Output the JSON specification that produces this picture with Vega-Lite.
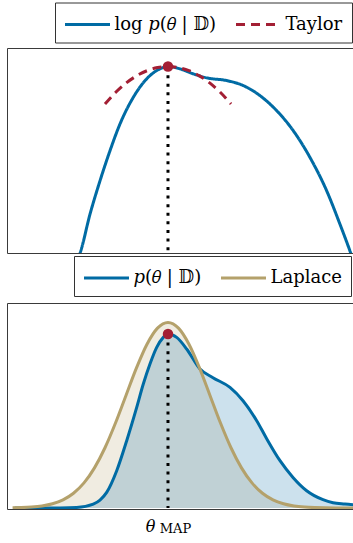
{
  "$schema": "https://vega.github.io/schema/vega-lite/v6.json",
  "padding": {"left": 7, "top": 2, "right": 0, "bottom": 0},
  "spacing": 0,
  "background": "white",
  "resolve": {"scale": {"stroke": "independent", "strokeDash": "independent"}},
  "config": {
    "view": {"stroke": null},
    "axis": {"grid": false, "ticks": false, "tickSize": 0, "labels": false, "domainColor": "#3a3a3a", "domainWidth": 1},
    "legend": {
      "labelFont": "DejaVu Serif",
      "labelFontSize": 18,
      "labelColor": "black",
      "labelLimit": 300,
      "strokeColor": "#333333",
      "fillColor": "white",
      "padding": 9,
      "symbolType": "M-2,0H2",
      "symbolSize": 506,
      "symbolStrokeWidth": 3,
      "symbolOffset": 10.5,
      "labelOffset": 14,
      "columnPadding": 13
    }
  },
  "datasets": {
    "logpost": [
      {"theta": -2.19, "value": -6.88, "series": "log 𝑝(𝜃 | 𝔻)"},
      {"theta": -2.095, "value": -6.594, "series": "log 𝑝(𝜃 | 𝔻)"},
      {"theta": -1.857, "value": -5.42, "series": "log 𝑝(𝜃 | 𝔻)"},
      {"theta": -1.619, "value": -4.417, "series": "log 𝑝(𝜃 | 𝔻)"},
      {"theta": -1.381, "value": -3.513, "series": "log 𝑝(𝜃 | 𝔻)"},
      {"theta": -1.143, "value": -2.709, "series": "log 𝑝(𝜃 | 𝔻)"},
      {"theta": -0.826, "value": -1.908, "series": "log 𝑝(𝜃 | 𝔻)"},
      {"theta": -0.507, "value": -1.353, "series": "log 𝑝(𝜃 | 𝔻)"},
      {"theta": -0.19, "value": -1.052, "series": "log 𝑝(𝜃 | 𝔻)"},
      {"theta": 0, "value": -0.983, "series": "log 𝑝(𝜃 | 𝔻)"},
      {"theta": 0.286, "value": -1.052, "series": "log 𝑝(𝜃 | 𝔻)"},
      {"theta": 0.602, "value": -1.203, "series": "log 𝑝(𝜃 | 𝔻)"},
      {"theta": 0.921, "value": -1.323, "series": "log 𝑝(𝜃 | 𝔻)"},
      {"theta": 1.398, "value": -1.405, "series": "log 𝑝(𝜃 | 𝔻)"},
      {"theta": 1.793, "value": -1.555, "series": "log 𝑝(𝜃 | 𝔻)"},
      {"theta": 2.19, "value": -1.856, "series": "log 𝑝(𝜃 | 𝔻)"},
      {"theta": 2.588, "value": -2.308, "series": "log 𝑝(𝜃 | 𝔻)"},
      {"theta": 2.983, "value": -2.911, "series": "log 𝑝(𝜃 | 𝔻)"},
      {"theta": 3.381, "value": -3.715, "series": "log 𝑝(𝜃 | 𝔻)"},
      {"theta": 3.779, "value": -4.718, "series": "log 𝑝(𝜃 | 𝔻)"},
      {"theta": 4.095, "value": -5.721, "series": "log 𝑝(𝜃 | 𝔻)"},
      {"theta": 4.333, "value": -6.525, "series": "log 𝑝(𝜃 | 𝔻)"},
      {"theta": 4.45, "value": -6.95, "series": "log 𝑝(𝜃 | 𝔻)"},
      {"theta": -1.5, "value": -2.108, "series": "Taylor"},
      {"theta": -1.25, "value": -1.764, "series": "Taylor"},
      {"theta": -1.0, "value": -1.483, "series": "Taylor"},
      {"theta": -0.75, "value": -1.264, "series": "Taylor"},
      {"theta": -0.5, "value": -1.108, "series": "Taylor"},
      {"theta": -0.25, "value": -1.014, "series": "Taylor"},
      {"theta": 0, "value": -0.983, "series": "Taylor"},
      {"theta": 0.25, "value": -1.014, "series": "Taylor"},
      {"theta": 0.5, "value": -1.108, "series": "Taylor"},
      {"theta": 0.75, "value": -1.264, "series": "Taylor"},
      {"theta": 1.0, "value": -1.483, "series": "Taylor"},
      {"theta": 1.25, "value": -1.764, "series": "Taylor"},
      {"theta": 1.5, "value": -2.108, "series": "Taylor"}
    ],
    "dens": [
      {"theta": -3.65, "p": 0.0002, "series": "𝑝(𝜃 | 𝔻)"},
      {"theta": -3.286, "p": 0.0002, "series": "𝑝(𝜃 | 𝔻)"},
      {"theta": -2.929, "p": 0.0002, "series": "𝑝(𝜃 | 𝔻)"},
      {"theta": -2.571, "p": 0.0003, "series": "𝑝(𝜃 | 𝔻)"},
      {"theta": -2.174, "p": 0.0013, "series": "𝑝(𝜃 | 𝔻)"},
      {"theta": -1.779, "p": 0.0086, "series": "𝑝(𝜃 | 𝔻)"},
      {"theta": -1.619, "p": 0.017, "series": "𝑝(𝜃 | 𝔻)"},
      {"theta": -1.46, "p": 0.0335, "series": "𝑝(𝜃 | 𝔻)"},
      {"theta": -1.221, "p": 0.0802, "series": "𝑝(𝜃 | 𝔻)"},
      {"theta": -0.983, "p": 0.1447, "series": "𝑝(𝜃 | 𝔻)"},
      {"theta": -0.745, "p": 0.2162, "series": "𝑝(𝜃 | 𝔻)"},
      {"theta": -0.588, "p": 0.2665, "series": "𝑝(𝜃 | 𝔻)"},
      {"theta": -0.429, "p": 0.3095, "series": "𝑝(𝜃 | 𝔻)"},
      {"theta": -0.269, "p": 0.3452, "series": "𝑝(𝜃 | 𝔻)"},
      {"theta": -0.112, "p": 0.3667, "series": "𝑝(𝜃 | 𝔻)"},
      {"theta": 0, "p": 0.374, "series": "𝑝(𝜃 | 𝔻)"},
      {"theta": 0.207, "p": 0.3667, "series": "𝑝(𝜃 | 𝔻)"},
      {"theta": 0.445, "p": 0.3418, "series": "𝑝(𝜃 | 𝔻)"},
      {"theta": 0.762, "p": 0.2988, "series": "𝑝(𝜃 | 𝔻)"},
      {"theta": 1.071, "p": 0.2801, "series": "𝑝(𝜃 | 𝔻)"},
      {"theta": 1.476, "p": 0.2592, "series": "𝑝(𝜃 | 𝔻)"},
      {"theta": 1.786, "p": 0.2306, "series": "𝑝(𝜃 | 𝔻)"},
      {"theta": 2.112, "p": 0.1877, "series": "𝑝(𝜃 | 𝔻)"},
      {"theta": 2.35, "p": 0.149, "series": "𝑝(𝜃 | 𝔻)"},
      {"theta": 2.667, "p": 0.1017, "series": "𝑝(𝜃 | 𝔻)"},
      {"theta": 2.976, "p": 0.0658, "series": "𝑝(𝜃 | 𝔻)"},
      {"theta": 3.302, "p": 0.0372, "series": "𝑝(𝜃 | 𝔻)"},
      {"theta": 3.69, "p": 0.018, "series": "𝑝(𝜃 | 𝔻)"},
      {"theta": 3.929, "p": 0.0114, "series": "𝑝(𝜃 | 𝔻)"},
      {"theta": 4.214, "p": 0.0086, "series": "𝑝(𝜃 | 𝔻)"},
      {"theta": 4.476, "p": 0.0065, "series": "𝑝(𝜃 | 𝔻)"},
      {"theta": -3.7, "p": 0.000425, "series": "Laplace"},
      {"theta": -3.5, "p": 0.000873, "series": "Laplace"},
      {"theta": -3.25, "p": 0.00203, "series": "Laplace"},
      {"theta": -3.0, "p": 0.00443, "series": "Laplace"},
      {"theta": -2.75, "p": 0.00909, "series": "Laplace"},
      {"theta": -2.5, "p": 0.01753, "series": "Laplace"},
      {"theta": -2.25, "p": 0.03174, "series": "Laplace"},
      {"theta": -2.0, "p": 0.05399, "series": "Laplace"},
      {"theta": -1.75, "p": 0.08628, "series": "Laplace"},
      {"theta": -1.5, "p": 0.12952, "series": "Laplace"},
      {"theta": -1.25, "p": 0.18265, "series": "Laplace"},
      {"theta": -1.0, "p": 0.24197, "series": "Laplace"},
      {"theta": -0.75, "p": 0.30114, "series": "Laplace"},
      {"theta": -0.5, "p": 0.35207, "series": "Laplace"},
      {"theta": -0.25, "p": 0.38667, "series": "Laplace"},
      {"theta": 0, "p": 0.39894, "series": "Laplace"},
      {"theta": 0.25, "p": 0.38667, "series": "Laplace"},
      {"theta": 0.5, "p": 0.35207, "series": "Laplace"},
      {"theta": 0.75, "p": 0.30114, "series": "Laplace"},
      {"theta": 1.0, "p": 0.24197, "series": "Laplace"},
      {"theta": 1.25, "p": 0.18265, "series": "Laplace"},
      {"theta": 1.5, "p": 0.12952, "series": "Laplace"},
      {"theta": 1.75, "p": 0.08628, "series": "Laplace"},
      {"theta": 2.0, "p": 0.05399, "series": "Laplace"},
      {"theta": 2.25, "p": 0.03174, "series": "Laplace"},
      {"theta": 2.5, "p": 0.01753, "series": "Laplace"},
      {"theta": 2.75, "p": 0.00909, "series": "Laplace"},
      {"theta": 3.0, "p": 0.00443, "series": "Laplace"},
      {"theta": 3.25, "p": 0.00203, "series": "Laplace"},
      {"theta": 3.5, "p": 0.000873, "series": "Laplace"},
      {"theta": 3.75, "p": 0.00035, "series": "Laplace"},
      {"theta": 4.0, "p": 0.00013, "series": "Laplace"},
      {"theta": 4.25, "p": 0.00005, "series": "Laplace"},
      {"theta": 4.5, "p": 0.00002, "series": "Laplace"}
    ],
    "maplog": [{"theta": 0, "top": -0.983, "bottom": -6.585}],
    "mapdens": [{"theta": 0, "top": 0.374, "bottom": 0}]
  },
  "vconcat": [
    {
      "width": 346,
      "height": 205,
      "resolve": {"axis": {"x": "independent", "y": "independent"}},
      "layer": [
        {
          "data": {"name": "logpost"},
          "mark": {"type": "line", "clip": true, "strokeWidth": 3, "interpolate": "monotone"},
          "encoding": {
            "x": {"field": "theta", "type": "quantitative", "scale": {"domain": [-3.833, 4.405], "nice": false, "zero": false}, "axis": {"orient": "bottom", "domain": true, "labels": false, "ticks": false, "grid": false}, "title": null},
            "y": {"field": "value", "type": "quantitative", "scale": {"domain": [-6.585, -0.426], "nice": false, "zero": false}, "axis": {"orient": "left", "domain": true, "labels": false, "ticks": false, "grid": false}, "title": null},
            "stroke": {
              "field": "series", "type": "nominal",
              "scale": {"domain": ["log 𝑝(𝜃 | 𝔻)", "Taylor"], "range": ["#006BA4", "#A31F34"]},
              "legend": {"title": null, "orient": "none", "legendX": 48, "legendY": -45.5, "direction": "horizontal"}
            },
            "strokeDash": {
              "field": "series", "type": "nominal",
              "scale": {"domain": ["log 𝑝(𝜃 | 𝔻)", "Taylor"], "range": [[1, 0], [9, 6]]},
              "legend": {"title": null, "orient": "none", "legendX": 48, "legendY": -45.5, "direction": "horizontal"}
            }
          }
        },
        {
          "data": {"name": "maplog"},
          "mark": {"type": "rule", "color": "black", "strokeWidth": 3, "strokeDash": [3, 5.6]},
          "encoding": {
            "x": {"field": "theta", "type": "quantitative", "axis": {"orient": "top", "domain": true, "labels": false, "ticks": false, "grid": false}, "title": null},
            "y": {"field": "top", "type": "quantitative", "axis": null},
            "y2": {"field": "bottom"}
          }
        },
        {
          "data": {"name": "maplog"},
          "mark": {"type": "point", "filled": true, "size": 110, "color": "#A31F34", "opacity": 1},
          "encoding": {
            "x": {"field": "theta", "type": "quantitative", "axis": null},
            "y": {"field": "top", "type": "quantitative", "axis": null}
          }
        }
      ]
    },
    {
      "width": 346,
      "height": 206,
      "resolve": {"axis": {"x": "independent", "y": "independent"}},
      "layer": [
        {
          "data": {"name": "dens"},
          "transform": [{"filter": "datum.series === 'Laplace'"}],
          "mark": {"type": "area", "clip": true, "color": "#B4A16B", "fillOpacity": 0.2, "interpolate": "monotone"},
          "encoding": {
            "x": {"field": "theta", "type": "quantitative", "scale": {"domain": [-3.833, 4.405], "nice": false, "zero": false},
                  "axis": {"orient": "bottom", "domain": true, "values": [0], "labels": true, "labelExpr": "'θ'", "labelFont": "DejaVu Serif", "labelFontStyle": "italic", "labelFontSize": 16, "labelColor": "black", "labelOffset": -18, "labelPadding": 9, "labelFlush": false, "labelBound": false, "ticks": false, "grid": false}, "title": null},
            "y": {"field": "p", "type": "quantitative", "scale": {"domain": [-0.0021, 0.4406], "nice": false, "zero": false}, "axis": {"orient": "left", "domain": true, "labels": false, "ticks": false, "grid": false}, "title": null}
          }
        },
        {
          "data": {"name": "dens"},
          "transform": [{"filter": "datum.series !== 'Laplace'"}],
          "mark": {"type": "area", "clip": true, "color": "#006BA4", "fillOpacity": 0.2, "interpolate": "monotone"},
          "encoding": {
            "x": {"field": "theta", "type": "quantitative",
                  "axis": {"orient": "bottom", "domain": false, "values": [0], "labels": true, "labelExpr": "'MAP'", "labelFont": "DejaVu Serif", "labelFontSize": 13, "labelColor": "black", "labelOffset": 7, "labelPadding": 13, "labelFlush": false, "labelBound": false, "ticks": false, "grid": false}, "title": null},
            "y": {"field": "p", "type": "quantitative", "axis": null}
          }
        },
        {
          "data": {"name": "dens"},
          "mark": {"type": "line", "clip": true, "strokeWidth": 3, "interpolate": "monotone"},
          "encoding": {
            "x": {"field": "theta", "type": "quantitative", "axis": {"orient": "top", "domain": true, "labels": false, "ticks": false, "grid": false}, "title": null},
            "y": {"field": "p", "type": "quantitative", "axis": null},
            "stroke": {
              "field": "series", "type": "nominal",
              "scale": {"domain": ["𝑝(𝜃 | 𝔻)", "Laplace"], "range": ["#006BA4", "#B4A16B"]},
              "legend": {"title": null, "orient": "none", "legendX": 67, "legendY": -47, "direction": "horizontal"}
            }
          }
        },
        {
          "data": {"name": "mapdens"},
          "mark": {"type": "rule", "color": "black", "strokeWidth": 3, "strokeDash": [3, 5.6]},
          "encoding": {
            "x": {"field": "theta", "type": "quantitative", "axis": null},
            "y": {"field": "top", "type": "quantitative", "axis": null},
            "y2": {"field": "bottom"}
          }
        },
        {
          "data": {"name": "mapdens"},
          "mark": {"type": "point", "filled": true, "size": 110, "color": "#A31F34", "opacity": 1},
          "encoding": {
            "x": {"field": "theta", "type": "quantitative", "axis": null},
            "y": {"field": "top", "type": "quantitative", "axis": null}
          }
        }
      ]
    }
  ]
}
